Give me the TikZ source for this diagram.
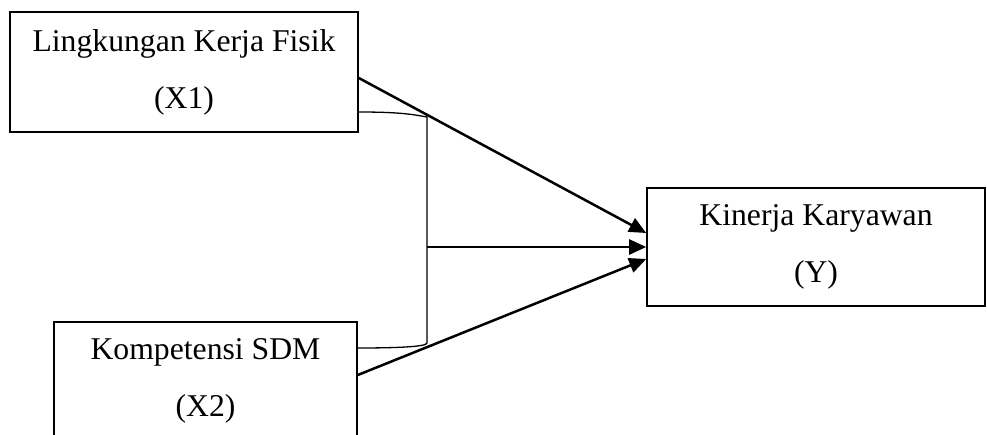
\documentclass[tikz,border=0pt]{standalone}
\usepackage{fontspec}
\setmainfont{Liberation Serif}
\usetikzlibrary{arrows.meta}

\begin{document}
\begin{tikzpicture}[x=1pt,y=1pt,
    varbox/.style={draw,line width=1.6pt,inner sep=0pt,align=center,
      font=\fontsize{31.7}{57}\selectfont},
    link/.style={line width=2.5pt,-{Triangle[length=17pt,width=15pt]}}]

    \useasboundingbox (0,0) rectangle (987,434);

    % draw boxes
    \node[varbox,minimum width=348,minimum height=120] (x1) at (184,362) {Lingkungan Kerja Fisik\\(X1)};
    \node[varbox,minimum width=303,minimum height=118] (x2) at (205.5,53) {Kompetensi SDM\\(X2)};
    \node[varbox,minimum width=338,minimum height=118] (y) at (816,187) {Kinerja Karyawan\\(Y)};

    % bracket between x1 and x2
    \coordinate (top) at (427,317);
    \coordinate (bot) at (427,91);
    \draw[line width=1.3pt] ([yshift=-40]x1.east) .. controls +(45,0) and +(-12,2) .. (top)
      -- (bot) .. controls +(0,-4) and +(35,0) .. ([yshift=33]x2.east);

    % draw arrows
    \draw[link] ([yshift=-6]x1.east) -- ([yshift=14]y.west);
    \draw[link] (top |- y.west) -- (y.west);
    \draw[link] ([yshift=6]x2.east) -- ([yshift=-12]y.west);
  \end{tikzpicture}
\end{document}
